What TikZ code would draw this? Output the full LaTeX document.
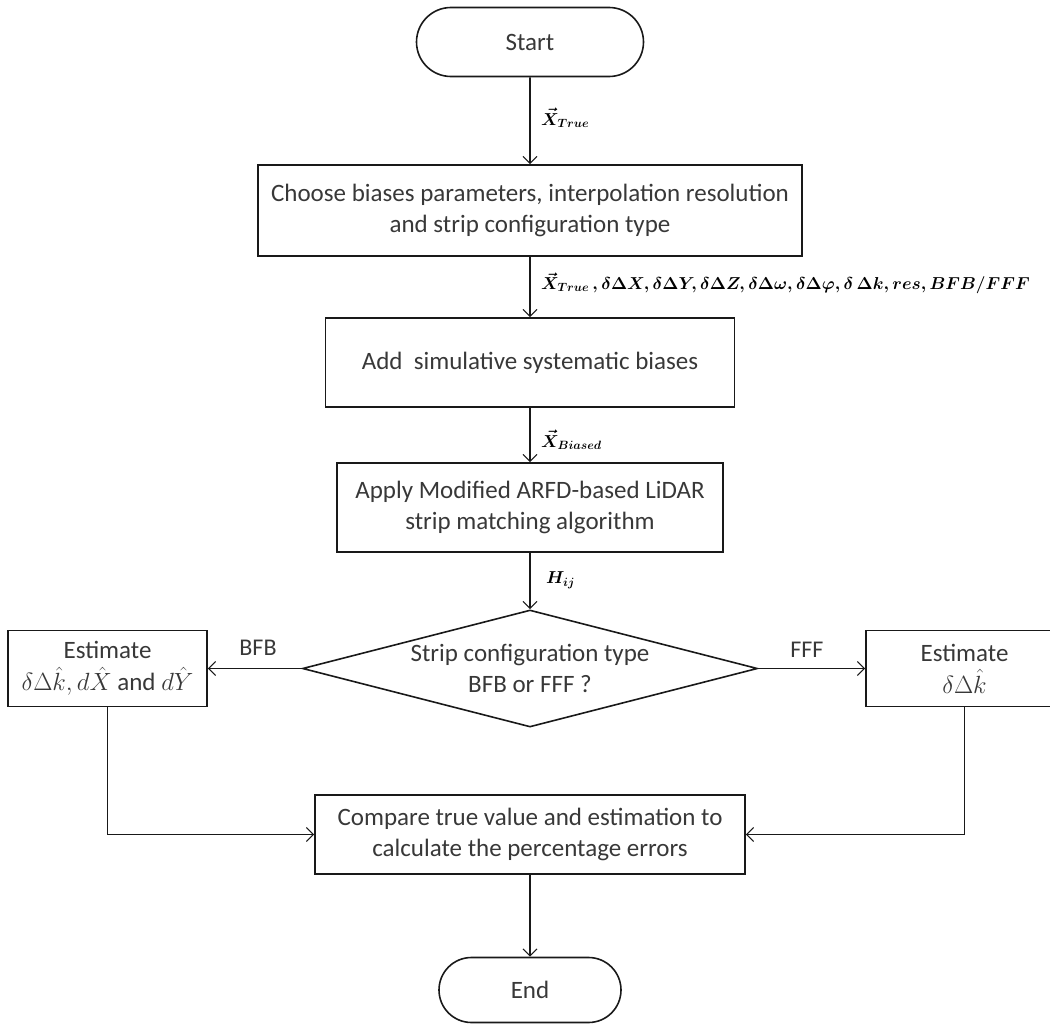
\documentclass[tikz,border=0pt]{standalone}
\usepackage{fontspec}
\setmainfont{Carlito}
\usetikzlibrary{shapes.geometric,shapes.misc,arrows.meta}

\begin{document}
\begin{tikzpicture}[x=1pt,y=-1pt,
  base/.style={draw=black!90, line width=1.6pt, text=black!78,
    font=\fontsize{25}{31}\selectfont, align=center, inner sep=0pt},
  procbox/.style={base, rectangle},
  termbox/.style={base, rounded rectangle},
  decisbox/.style={base, diamond},
  link/.style={draw=black!90, line width=1.6pt,
    -{Straight Barb[length=7pt,width=14pt,line width=1.1pt]}},
  flowlbl/.style={font=\fontsize{18}{21}\selectfont\boldmath, anchor=west, inner sep=0pt},
  branchlbl/.style={font=\fontsize{24}{28}\selectfont, text=black!78, inner sep=0pt}]

\useasboundingbox (0,0) rectangle (1050,1025);
\clip (0,0) rectangle (1050,1025);

% main column
\node[termbox, minimum width=227pt, minimum height=69pt] (start) at (530,42) {Start};
\node[procbox, minimum width=544pt, minimum height=91pt] (choose) at (530,210.5)
  {Choose biases parameters, interpolation resolution\\and strip configuration type};
\node[procbox, minimum width=409pt, minimum height=89pt] (addb) at (530,362.5)
  {Add\ \ simulative systematic biases};
\node[procbox, minimum width=386pt, minimum height=89pt] (match) at (530,507.5)
  {Apply Modified ARFD-based LiDAR\\strip matching algorithm};
\node[decisbox, minimum width=455pt, minimum height=117pt, shape aspect=3.9] (dec) at (530,668.5)
  {Strip configuration type\\BFB or FFF ?};
\node[procbox, minimum width=199pt, minimum height=76pt] (estL) at (107.5,668.5)
  {Estimate\\[1pt]$\delta\Delta\hat{k}, d\hat{X}$ and $d\hat{Y}$};
\node[procbox, minimum width=197pt, minimum height=76pt] (estR) at (964.5,668.5)
  {Estimate\\[1pt]$\delta\Delta\hat{k}$};
\node[procbox, minimum width=430pt, minimum height=79pt] (cmp) at (530,834.5)
  {Compare true value and estimation to\\calculate the percentage errors};
\node[termbox, minimum width=182pt, minimum height=65pt] (stop) at (530,990) {End};

% connectors
\draw[link] (start) -- (choose);
\draw[link] (choose) -- (addb);
\draw[link] (addb) -- (match);
\draw[link] (match) -- (dec);
\draw[link] (dec.west) -- (estL.east);
\draw[link] (dec.east) -- (estR.west);
\draw[link] (estL.south) |- (cmp.west);
\draw[link] (estR.south) |- (cmp.east);
\draw[link] (cmp) -- (stop);

% data passed along the column
\node[flowlbl] (l1) at (541,118) {$\vec{X}_{True}$};
\node[flowlbl] (l2) at (541,283) {$\vec{X}_{True}\,, \delta\Delta X, \delta\Delta Y, \delta\Delta Z, \delta\Delta\omega, \delta\Delta\varphi, \delta\,\Delta k, res, BFB/FFF$};
\node[flowlbl] (l3) at (541,440) {$\vec{X}_{Biased}$};
\node[flowlbl] (l4) at (546,580) {$H_{ij}$};

% branch labels
\node[branchlbl] (bfb) at (258,648) {BFB};
\node[branchlbl] (fff) at (807,650) {FFF};
\end{tikzpicture}
\end{document}
